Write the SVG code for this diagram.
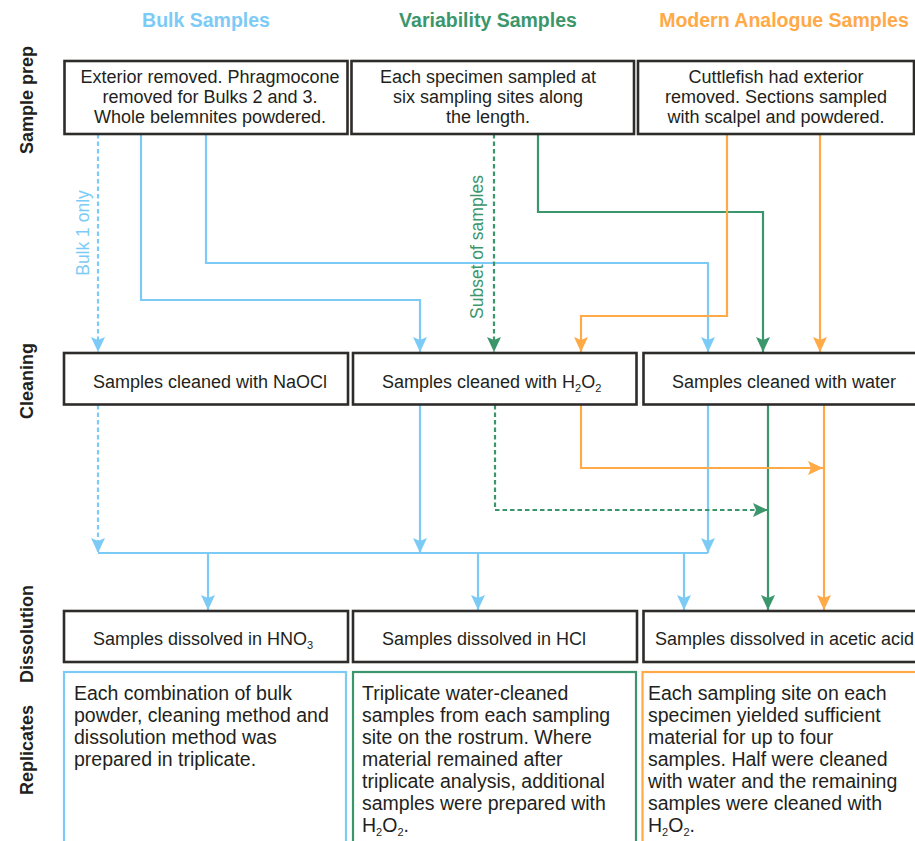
<svg xmlns="http://www.w3.org/2000/svg" width="915" height="841" viewBox="0 0 915 841">
<style>
  .title{font-family:"Liberation Sans",Arial,sans-serif;font-weight:bold;font-size:19.5px;text-anchor:middle}
  .row{font-family:"Liberation Sans",Arial,sans-serif;font-weight:bold;font-size:18px;fill:#231f20;text-anchor:middle}
  .box{fill:#fff;stroke:#2e2c2b;stroke-width:2.6}
  .t{font-family:"Liberation Sans",Arial,sans-serif;font-size:18px;fill:#231f20}
  .c{text-anchor:middle}
  .rep{font-family:"Liberation Sans",Arial,sans-serif;font-size:19.5px;fill:#231f20}
  .lbl{font-family:"Liberation Sans",Arial,sans-serif;font-size:17.5px;text-anchor:middle}
  .b{stroke:#7ccbf6;stroke-width:2.2;fill:none}
  .g{stroke:#3b966b;stroke-width:2.2;fill:none}
  .o{stroke:#ffa947;stroke-width:2.2;fill:none}
  .d{stroke-dasharray:4.5 3}
  .sub{font-size:11px}
</style>
<defs>
  <marker id="ab" markerUnits="userSpaceOnUse" markerWidth="15" markerHeight="14" refX="15" refY="7" orient="auto"><path d="M0,0 L15,7 L0,14 L3,7 z" fill="#7ccbf6"/></marker>
  <marker id="ag" markerUnits="userSpaceOnUse" markerWidth="15" markerHeight="14" refX="15" refY="7" orient="auto"><path d="M0,0 L15,7 L0,14 L3,7 z" fill="#3b966b"/></marker>
  <marker id="ao" markerUnits="userSpaceOnUse" markerWidth="15" markerHeight="14" refX="15" refY="7" orient="auto"><path d="M0,0 L15,7 L0,14 L3,7 z" fill="#ffa947"/></marker>
</defs>
<rect width="915" height="841" fill="#fff"/>

<g id="titles">
  <text class="title" x="206" y="27" fill="#7ccbf6">Bulk Samples</text>
  <text class="title" x="488" y="27" fill="#3b966b">Variability Samples</text>
  <text class="title" x="784" y="27" fill="#ffa947">Modern Analogue Samples</text>
</g>

<g id="row-labels">
  <text class="row" transform="translate(33,100) rotate(-90)">Sample prep</text>
  <text class="row" transform="translate(33,381) rotate(-90)">Cleaning</text>
  <text class="row" transform="translate(33,634) rotate(-90)">Dissolution</text>
  <text class="row" transform="translate(33,750) rotate(-90)">Replicates</text>
</g>

<g id="connectors">
  <!-- blue -->
  <path class="b d" d="M98,134 V352" marker-end="url(#ab)"/>
  <path class="b" d="M141,134 V300 H420 V352" marker-end="url(#ab)"/>
  <path class="b" d="M206,134 V263 H708 V352" marker-end="url(#ab)"/>
  <path class="b d" d="M98,405 V553" marker-end="url(#ab)"/>
  <path class="b" d="M420,405 V553" marker-end="url(#ab)"/>
  <path class="b" d="M708,405 V553" marker-end="url(#ab)"/>
  <path class="b" d="M98,553 H708"/>
  <path class="b" d="M208,553 V610" marker-end="url(#ab)"/>
  <path class="b" d="M478,553 V610" marker-end="url(#ab)"/>
  <path class="b" d="M684,553 V610" marker-end="url(#ab)"/>
  <!-- green -->
  <path class="g d" d="M494,134 V352" marker-end="url(#ag)"/>
  <path class="g" d="M538,134 V212 H763 V352" marker-end="url(#ag)"/>
  <path class="g d" d="M495,405 V510 H768" marker-end="url(#ag)"/>
  <path class="g" d="M768,405 V610" marker-end="url(#ag)"/>
  <!-- orange -->
  <path class="o" d="M727,134 V316 H581 V352" marker-end="url(#ao)"/>
  <path class="o" d="M820,134 V352" marker-end="url(#ao)"/>
  <path class="o" d="M581,405 V468 H823" marker-end="url(#ao)"/>
  <path class="o" d="M824,405 V610" marker-end="url(#ao)"/>
  <text class="lbl" fill="#7ccbf6" transform="translate(89,233) rotate(-90)">Bulk 1 only</text>
  <text class="lbl" fill="#3b966b" transform="translate(483,247) rotate(-90)">Subset of samples</text>
</g>

<g id="prep-bulk">
  <rect class="box" x="64.5" y="61" width="283" height="73"/>
  <text class="t c" x="210" y="83">Exterior removed. Phragmocone</text>
  <text class="t c" x="210" y="103">removed for Bulks 2 and 3.</text>
  <text class="t c" x="210" y="123">Whole belemnites powdered.</text>
</g>
<g id="prep-variability">
  <rect class="box" x="351.5" y="61" width="282.5" height="73"/>
  <text class="t c" x="488" y="83">Each specimen sampled at</text>
  <text class="t c" x="488" y="103">six sampling sites along</text>
  <text class="t c" x="488" y="123">the length.</text>
</g>
<g id="prep-modern">
  <rect class="box" x="638" y="61" width="276" height="73"/>
  <text class="t c" x="776" y="83">Cuttlefish had exterior</text>
  <text class="t c" x="776" y="103">removed. Sections sampled</text>
  <text class="t c" x="776" y="123">with scalpel and powdered.</text>
</g>

<g id="clean-naocl">
  <rect class="box" x="64" y="353" width="284" height="51.5"/>
  <text class="t" x="93" y="388">Samples cleaned with NaOCl</text>
</g>
<g id="clean-h2o2">
  <rect class="box" x="353" y="353" width="283.5" height="51.5"/>
  <text class="t" x="382" y="388">Samples cleaned with H<tspan class="sub" dy="4">2</tspan><tspan dy="-4">O</tspan><tspan class="sub" dy="4">2</tspan></text>
</g>
<g id="clean-water">
  <rect class="box" x="643.5" y="353" width="280" height="51.5"/>
  <text class="t" x="672" y="388">Samples cleaned with water</text>
</g>

<g id="dissolve-hno3">
  <rect class="box" x="64" y="611" width="284" height="51"/>
  <text class="t" x="93" y="645">Samples dissolved in HNO<tspan class="sub" dy="4">3</tspan></text>
</g>
<g id="dissolve-hcl">
  <rect class="box" x="353" y="611" width="284" height="51"/>
  <text class="t" x="382" y="645">Samples dissolved in HCl</text>
</g>
<g id="dissolve-acetic">
  <rect class="box" x="643.5" y="611" width="280" height="51"/>
  <text class="t" x="655" y="645">Samples dissolved in acetic acid</text>
</g>

<g id="rep-bulk">
  <rect x="64" y="672" width="282" height="180" fill="#fff" stroke="#7ccbf6" stroke-width="2.2"/>
  <text class="rep" x="74" y="700">Each combination of bulk</text>
  <text class="rep" x="74" y="722">powder, cleaning method and</text>
  <text class="rep" x="74" y="744">dissolution method was</text>
  <text class="rep" x="74" y="766">prepared in triplicate.</text>
</g>
<g id="rep-variability">
  <rect x="353" y="672" width="283" height="180" fill="#fff" stroke="#3b966b" stroke-width="2.2"/>
  <text class="rep" x="362" y="700">Triplicate water-cleaned</text>
  <text class="rep" x="362" y="722">samples from each sampling</text>
  <text class="rep" x="362" y="744">site on the rostrum. Where</text>
  <text class="rep" x="362" y="766">material remained after</text>
  <text class="rep" x="362" y="788">triplicate analysis, additional</text>
  <text class="rep" x="362" y="810">samples were prepared with</text>
  <text class="rep" x="362" y="832">H<tspan class="sub" dy="4">2</tspan><tspan dy="-4">O</tspan><tspan class="sub" dy="4">2</tspan><tspan dy="-4">.</tspan></text>
</g>
<g id="rep-modern">
  <rect x="642.5" y="672" width="290" height="180" fill="#fff" stroke="#ffa947" stroke-width="2.2"/>
  <text class="rep" x="648" y="700">Each sampling site on each</text>
  <text class="rep" x="648" y="722">specimen yielded sufficient</text>
  <text class="rep" x="648" y="744">material for up to four</text>
  <text class="rep" x="648" y="766">samples. Half were cleaned</text>
  <text class="rep" x="648" y="788">with water and the remaining</text>
  <text class="rep" x="648" y="810">samples were cleaned with</text>
  <text class="rep" x="648" y="832">H<tspan class="sub" dy="4">2</tspan><tspan dy="-4">O</tspan><tspan class="sub" dy="4">2</tspan><tspan dy="-4">.</tspan></text>
</g>
</svg>
